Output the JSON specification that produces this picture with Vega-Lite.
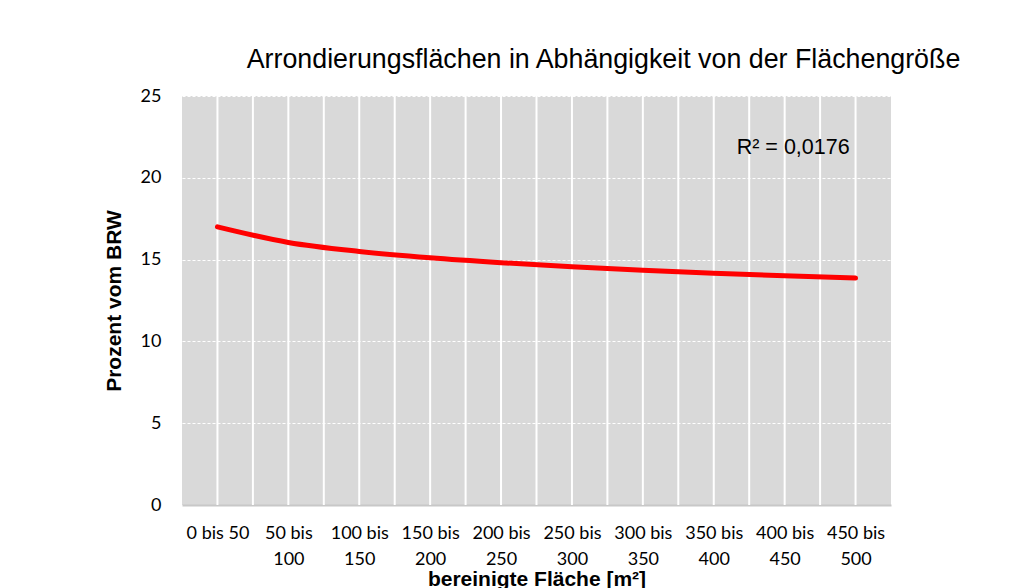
{
  "$schema": "https://vega.github.io/schema/vega-lite/v6.json",
  "width": 709,
  "height": 409,
  "autosize": {"type": "none"},
  "padding": {"left": 182, "top": 96, "right": 131, "bottom": 83},
  "background": "white",
  "title": {
    "text": "Arrondierungsflächen in Abhängigkeit von der Flächengröße",
    "font": "Liberation Sans",
    "fontSize": 26.8,
    "fontWeight": "normal",
    "color": "#000000",
    "anchor": "middle",
    "dx": 67,
    "offset": 13
  },
  "config": {
    "view": {"fill": "#D9D9D9", "stroke": null}
  },
  "datasets": {
    "curve": [
      {"pos": 0.5, "bereich": "0 bis 50", "prozent": 17.0},
      {"pos": 1.5, "bereich": "50 bis 100", "prozent": 16.05},
      {"pos": 2.5, "bereich": "100 bis 150", "prozent": 15.5},
      {"pos": 3.5, "bereich": "150 bis 200", "prozent": 15.11},
      {"pos": 4.5, "bereich": "200 bis 250", "prozent": 14.81},
      {"pos": 5.5, "bereich": "250 bis 300", "prozent": 14.56},
      {"pos": 6.5, "bereich": "300 bis 350", "prozent": 14.35},
      {"pos": 7.5, "bereich": "350 bis 400", "prozent": 14.17},
      {"pos": 8.5, "bereich": "400 bis 450", "prozent": 14.01},
      {"pos": 9.5, "bereich": "450 bis 500", "prozent": 13.87}
    ],
    "grid": [
      {"pos": 0.5}, {"pos": 1}, {"pos": 1.5}, {"pos": 2}, {"pos": 2.5},
      {"pos": 3}, {"pos": 3.5}, {"pos": 4}, {"pos": 4.5}, {"pos": 5},
      {"pos": 5.5}, {"pos": 6}, {"pos": 6.5}, {"pos": 7}, {"pos": 7.5},
      {"pos": 8}, {"pos": 8.5}, {"pos": 9}, {"pos": 9.5}
    ],
    "label": [
      {"pos": 8.62, "prozent": 21.8, "text": "R² = 0,0176"}
    ]
  },
  "layer": [
    {
      "data": {"name": "grid"},
      "mark": {"type": "rule", "color": "#FFFFFF", "strokeWidth": 2},
      "encoding": {
        "x": {"field": "pos", "type": "quantitative"}
      }
    },
    {
      "data": {"name": "curve"},
      "mark": {"type": "line", "color": "#FF0000", "strokeWidth": 5, "strokeCap": "round", "interpolate": "monotone"},
      "encoding": {
        "x": {
          "field": "pos",
          "type": "quantitative",
          "scale": {"domain": [0, 10], "nice": false, "zero": false},
          "axis": {
            "title": "bereinigte Fläche [m²]",
            "titleFont": "Liberation Sans",
            "titleFontSize": 21,
            "titleFontWeight": "bold",
            "titleColor": "#000000",
            "titlePadding": 0,
            "values": [0.5, 1.5, 2.5, 3.5, 4.5, 5.5, 6.5, 7.5, 8.5, 9.5],
            "labelExpr": "[['0 bis 50'], ['50 bis', '100'], ['100 bis', '150'], ['150 bis', '200'], ['200 bis', '250'], ['250 bis', '300'], ['300 bis', '350'], ['350 bis', '400'], ['400 bis', '450'], ['450 bis', '500']][floor(datum.value)]",
            "labelFont": "Lato",
            "labelFontSize": 18,
            "labelColor": "#000000",
            "labelPadding": 19,
            "labelLineHeight": 26,
            "labelBaseline": "top",
            "labelOverlap": false,
            "labelBound": false,
            "labelFlush": false,
            "ticks": false,
            "domain": true,
            "domainColor": "#C8C8C8",
            "domainWidth": 2,
            "grid": false
          }
        },
        "y": {
          "field": "prozent",
          "type": "quantitative",
          "scale": {"domain": [0, 25], "nice": false},
          "axis": {
            "title": "Prozent vom BRW",
            "titleFont": "Liberation Sans",
            "titleFontSize": 21,
            "titleFontWeight": "bold",
            "titleColor": "#000000",
            "titlePadding": 16,
            "values": [0, 5, 10, 15, 20, 25],
            "labelFont": "Lato",
            "labelFontSize": 18,
            "labelColor": "#000000",
            "labelPadding": 21,
            "ticks": false,
            "domain": false,
            "grid": true,
            "gridColor": "#FFFFFF",
            "gridWidth": 1,
            "gridDash": [3, 2]
          }
        }
      }
    },
    {
      "data": {"name": "label"},
      "mark": {"type": "text", "font": "Liberation Sans", "fontSize": 21.5, "color": "#000000", "align": "center", "baseline": "middle"},
      "encoding": {
        "x": {"field": "pos", "type": "quantitative"},
        "y": {"field": "prozent", "type": "quantitative"},
        "text": {"field": "text"}
      }
    }
  ]
}
